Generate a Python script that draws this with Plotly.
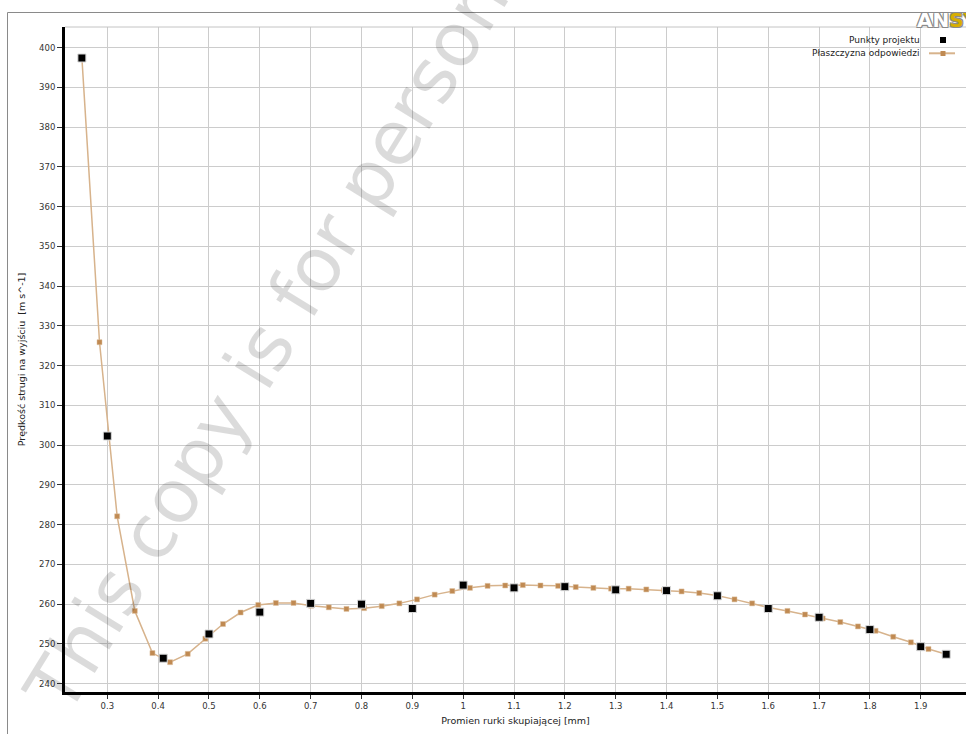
import plotly.graph_objects as go

# ---- data ----
design_x = [0.25, 0.30, 0.41, 0.50, 0.60, 0.70, 0.80, 0.90, 1.00, 1.10,
            1.20, 1.30, 1.40, 1.50, 1.60, 1.70, 1.80, 1.90, 1.95]
design_y = [397.4, 302.3, 246.4, 252.5, 258.0, 260.2, 260.0, 258.9, 264.8, 264.1,
            264.4, 263.6, 263.4, 262.1, 258.9, 256.7, 253.6, 249.3, 247.4]

surface_x = [0.2500, 0.2847, 0.3194, 0.3541, 0.3888, 0.4235, 0.4582, 0.4929, 0.5276, 0.5622,
             0.5969, 0.6316, 0.6663, 0.7010, 0.7357, 0.7704, 0.8051, 0.8398, 0.8745, 0.9092,
             0.9439, 0.9786, 1.0133, 1.0480, 1.0827, 1.1173, 1.1520, 1.1867, 1.2214, 1.2561,
             1.2908, 1.3255, 1.3602, 1.3949, 1.4296, 1.4643, 1.4990, 1.5337, 1.5684, 1.6031,
             1.6378, 1.6724, 1.7071, 1.7418, 1.7765, 1.8112, 1.8459, 1.8806, 1.9153, 1.9500]
surface_y = [397.5, 325.9, 282.1, 258.3, 247.7, 245.4, 247.5, 251.3, 255.0, 257.9,
             259.8, 260.3, 260.3, 259.6, 259.2, 258.8, 259.0, 259.5, 260.2, 261.2,
             262.4, 263.3, 264.1, 264.6, 264.7, 264.8, 264.7, 264.6, 264.3, 264.1,
             263.9, 263.9, 263.7, 263.5, 263.2, 262.8, 262.2, 261.2, 260.2, 259.1,
             258.3, 257.4, 256.4, 255.5, 254.4, 253.3, 251.8, 250.4, 248.7, 247.4]

x_ticks = [0.3, 0.4, 0.5, 0.6, 0.7, 0.8, 0.9, 1.0, 1.1, 1.2, 1.3, 1.4, 1.5, 1.6, 1.7, 1.8, 1.9]
x_tick_labels = ["0.3", "0.4", "0.5", "0.6", "0.7", "0.8", "0.9", "1", "1.1", "1.2",
                 "1.3", "1.4", "1.5", "1.6", "1.7", "1.8", "1.9"]
y_ticks = list(range(240, 401, 10))

series_names = ["Punkty projektu", "Płaszczyzna odpowiedzi"]
x_title = "Promien rurki skupiającej [mm]"
y_title = "Prędkość strugi na wyjściu  [m s^-1]"
watermark = "This copy is for personal use only"

FONT = "DejaVu Sans"
LINE_C = "#d7b38c"
MARK_C = "#c08a52"

fig = go.Figure()
fig.add_trace(go.Scatter(
    x=surface_x, y=surface_y, mode="lines+markers", name=series_names[1],
    line=dict(color=LINE_C, width=1.5),
    marker=dict(symbol="square", size=5, color=MARK_C, line=dict(color="#dcc0a0", width=0.5)),
    showlegend=False, cliponaxis=False))
fig.add_trace(go.Scatter(
    x=design_x, y=design_y, mode="markers", name=series_names[0],
    marker=dict(symbol="square", size=8, color="black", line=dict(color="#d8d8d8", width=1)),
    showlegend=False, cliponaxis=False))

W, H = 966, 734
L, R, T, B = 65, 0, 27, 42
pw, ph = W - L - R, H - T - B

def px(xs):
    return (xs - L) / pw

def py(ys):
    return (H - B - ys) / ph

shapes = []
# outer frame (left and top edges; the rest lies outside the view)
shapes.append(dict(type="line", xref="paper", yref="paper",
                   x0=px(7.5), x1=px(7.5), y0=py(740), y1=py(12.5),
                   line=dict(color="#8a8a8a", width=1), layer="below"))
shapes.append(dict(type="line", xref="paper", yref="paper",
                   x0=px(7.5), x1=px(975), y0=py(12.5), y1=py(12.5),
                   line=dict(color="#8a8a8a", width=1), layer="below"))
# top border of plot area
shapes.append(dict(type="line", xref="paper", yref="paper", x0=0, x1=1.01, y0=1, y1=1,
                   line=dict(color="#c4c4c4", width=1)))
# legend symbols
shapes.append(dict(type="rect", xref="paper", yref="paper",
                   x0=px(940), x1=px(946), y0=py(43), y1=py(37),
                   fillcolor="black", line=dict(color="black", width=0)))
shapes.append(dict(type="line", xref="paper", yref="paper",
                   x0=px(929), x1=px(955), y0=py(53.3), y1=py(53.3),
                   line=dict(color=LINE_C, width=2)))
shapes.append(dict(type="rect", xref="paper", yref="paper",
                   x0=px(940.5), x1=px(945.5), y0=py(56), y1=py(51),
                   fillcolor=MARK_C, line=dict(color=MARK_C, width=0)))

annotations = [
    dict(text=series_names[0], xref="paper", yref="paper", x=px(922), y=py(39.5),
         xanchor="right", yanchor="middle", showarrow=False,
         font=dict(family=FONT, size=9, color="#222")),
    dict(text=series_names[1], xref="paper", yref="paper", x=px(922), y=py(53),
         xanchor="right", yanchor="middle", showarrow=False,
         font=dict(family=FONT, size=9, color="#222")),
    dict(text="<b>AN<span style='color:#d8ae00'>SYS</span></b>", xref="paper", yref="paper",
         x=px(915), y=py(20.5), xanchor="left", yanchor="middle", showarrow=False,
         font=dict(family=FONT, size=20, color="#ffffff",
                   shadow="-1px -1px 0 #8a8a8a, 1px -1px 0 #8a8a8a, -1px 1px 0 #8a8a8a, 1px 1px 0 #8a8a8a")),
    dict(text=watermark, xref="paper", yref="paper", x=px(373), y=py(171),
         xanchor="center", yanchor="middle", showarrow=False, textangle=-58.4,
         font=dict(family=FONT, size=75, color="rgba(0,0,0,0.14)")),
]

fig.update_layout(
    width=W, height=H,
    margin=dict(l=L, r=R, t=T, b=B, autoexpand=False),
    paper_bgcolor="white", plot_bgcolor="white",
    font=dict(family=FONT, size=9, color="#333"),
    showlegend=False,
    shapes=shapes, annotations=annotations,
    xaxis=dict(range=[0.2168, 0.3 + (W - 107.3) / 508.4], tickvals=x_ticks, ticktext=x_tick_labels,
               showgrid=True, gridcolor="#cccccc", gridwidth=1, zeroline=False,
               showline=True, linecolor="black", linewidth=3,
               ticks="outside", ticklen=4, tickcolor="#333", tickwidth=1,
               tickfont=dict(family=FONT, size=8.5, color="#333"), automargin=False,
               title=dict(text=x_title, font=dict(family=FONT, size=9.5, color="#222"), standoff=8)),
    yaxis=dict(range=[237.9, 405.2], tickvals=y_ticks,
               showgrid=True, gridcolor="#cccccc", gridwidth=1, zeroline=False,
               showline=True, linecolor="black", linewidth=3,
               ticks="outside", ticklen=5, tickcolor="#333", tickwidth=1,
               tickfont=dict(family=FONT, size=8.5, color="#333"), automargin=False,
               title=dict(text=y_title, font=dict(family=FONT, size=9.5, color="#222"), standoff=12)),
)

fig.write_html("out.html", config={"displayModeBar": False, "responsive": False},
               post_script=("document.documentElement.style.overflow='hidden';"
                            "document.body.style.overflow='hidden';"
                            "document.body.style.margin='0';"))
